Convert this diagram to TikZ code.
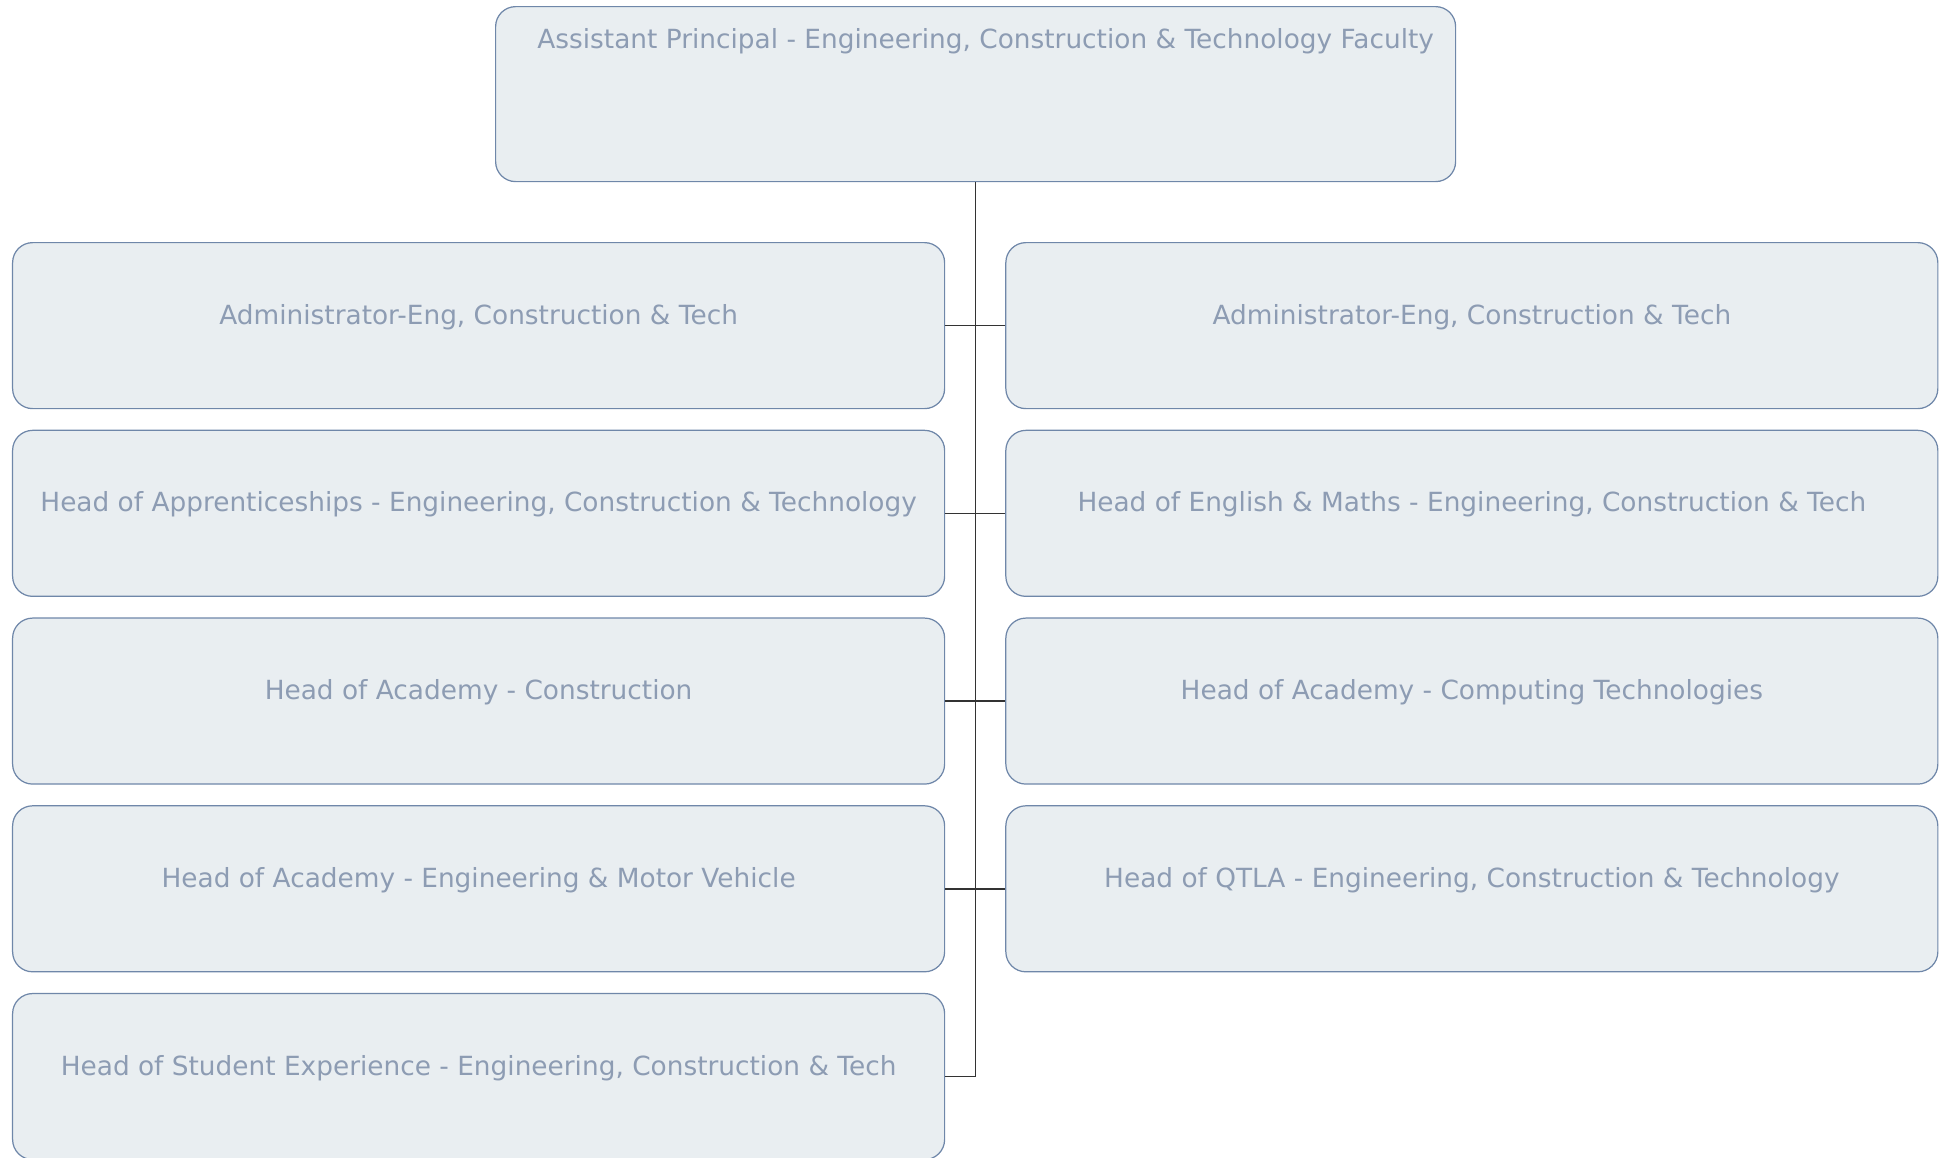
\documentclass[tikz,border=0pt]{standalone}
\usepackage{fontspec}
\setmainfont{DejaVu Sans}
\usepackage{xcolor}
\usetikzlibrary{positioning}
\definecolor{boxfill}{HTML}{E9EEF1}
\definecolor{boxline}{HTML}{6F87A9}
\definecolor{boxtext}{HTML}{8D9CB3}
\definecolor{linkline}{HTML}{333333}
\begin{document}
\begin{tikzpicture}[
    role/.style={draw=boxline, fill=boxfill, text=boxtext, rounded corners=0.2cm, line width=0.35pt,
        inner sep=0pt, minimum width=9.32cm, text height=0.815cm, text depth=0.845cm,
        font=\fontsize{7.5}{9}\selectfont},
    link/.style={draw=linkline, line width=0.4pt}]
    \useasboundingbox (0,0) rectangle (19.42,-11.57);

    \node [role, anchor=north west, minimum width=9.6cm, text height=0.415cm, text depth=1.335cm] (principal) at (4.95,-0.06) {\hspace*{0.2cm}Assistant Principal - Engineering, Construction \& Technology Faculty};

    \node [role, anchor=north west] (admin_l) at (0.12,-2.42) {Administrator-Eng, Construction \& Tech};
    \node [role, below=0.205cm of admin_l] (apprent) {Head of Apprenticeships - Engineering, Construction \& Technology};
    \node [role, below=0.205cm of apprent] (construct) {Head of Academy - Construction};
    \node [role, below=0.205cm of construct] (engineer) {Head of Academy - Engineering \& Motor Vehicle};
    \node [role, below=0.205cm of engineer] (student) {Head of Student Experience - Engineering, Construction \& Tech};

    \node [role, right=0.6cm of admin_l] (admin_r) {Administrator-Eng, Construction \& Tech};
    \node [role, right=0.6cm of apprent] (maths) {Head of English \& Maths - Engineering, Construction \& Tech};
    \node [role, right=0.6cm of construct] (computing) {Head of Academy - Computing Technologies};
    \node [role, right=0.6cm of engineer] (qtla) {Head of QTLA - Engineering, Construction \& Technology};

    \draw [link] (principal.south) -- (principal.south |- student.east) -- (student.east);
    \draw [link] (admin_l.east) -- (admin_r.west);
    \draw [link] (apprent.east) -- (maths.west);
    \draw [link] (construct.east) -- (computing.west);
    \draw [link] (engineer.east) -- (qtla.west);
\end{tikzpicture}
\end{document}
